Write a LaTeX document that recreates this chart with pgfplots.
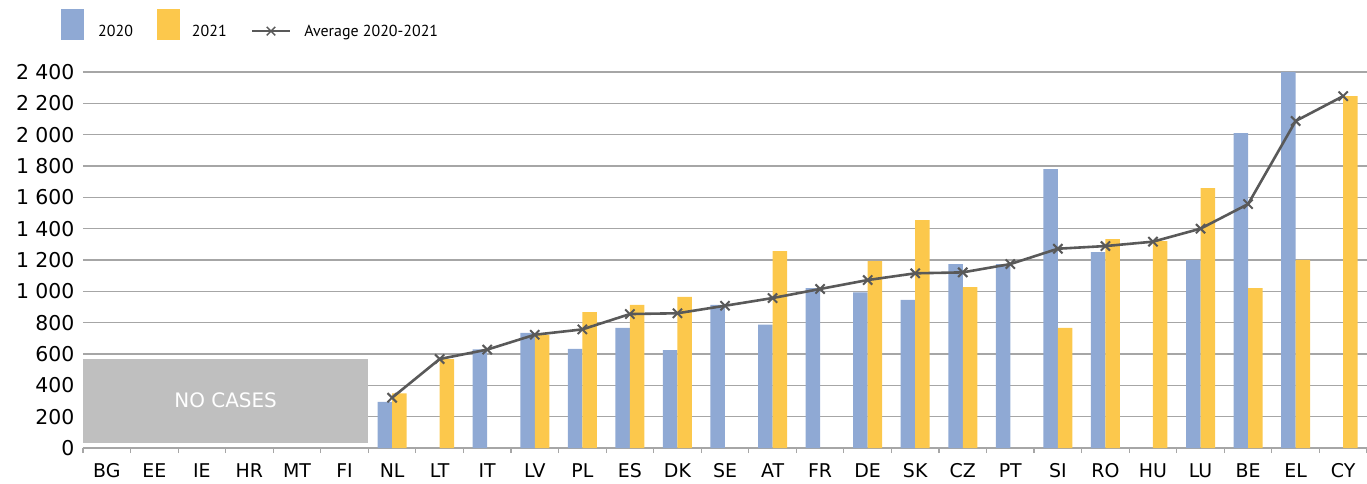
\documentclass[border=0pt]{standalone}
\usepackage{pgfplots}
\pgfplotsset{compat=1.18}
\usetikzlibrary{shapes.misc}
\usepackage{fontspec}
\setmainfont{PT Sans}
\newfontfamily\tickfont{DejaVu Sans}
\definecolor{cblue}{RGB}{143,169,212}
\definecolor{cyellow}{RGB}{252,200,76}
\definecolor{cline}{RGB}{89,89,89}
\definecolor{cgrid}{RGB}{166,166,166}
\definecolor{cbox}{RGB}{191,191,191}
\begin{document}
\begin{tikzpicture}
\begin{axis}[
  at={(0,0)}, anchor=south west,
  scale only axis,
  width=1284bp, height=376bp,
  xmin=-0.5, xmax=26.5,
  ymin=0, ymax=2400,
  xtick={0,...,26},
  xticklabels={BG,EE,IE,HR,MT,FI,NL,LT,IT,LV,PL,ES,DK,SE,AT,FR,DE,SK,CZ,PT,SI,RO,HU,LU,BE,EL,CY},
  minor xtick={-0.5,0.5,...,26.5},
  major tick length=0pt,
  minor tick length=5bp,
  tick align=outside,
  minor tick style={cgrid, line width=1.2bp},
  ytick={0,200,...,2400},
  ymajorgrids,
  grid style={cgrid, line width=1.3bp},
  axis lines*=left,
  x axis line style={cgrid, line width=1.5bp},
  y axis line style={draw=none},
  /pgf/number format/1000 sep={\ },
  /pgf/number format/assume math mode=true,
  yticklabel style={font=\tickfont\fontsize{20.5}{24}\selectfont, xshift=-5bp},
  xticklabel style={font=\tickfont\fontsize{19}{23}\selectfont, yshift=-12bp},
  legend columns=3,
  legend style={at={(-0.0171,1.1676)}, anchor=north west, draw=none, fill=none,
    inner sep=0pt, font=\fontsize{16}{19}\selectfont,
    /tikz/every even column/.append style={column sep=22bp}},
  clip=false,
]
\fill[cbox] (axis cs:-0.5,30) rectangle (axis cs:5.49,570);
\node[white, font=\tickfont\fontsize{20}{24}\selectfont] at (axis cs:2.5,305) {NO CASES};
\addplot[ybar, bar width=14.5bp, bar shift=-7.25bp, fill=cblue, draw=none,
  area legend, legend image code/.code={\fill[cblue] (0bp,-9bp) rectangle (23bp,22bp); \path (35bp,0bp);}]
  coordinates {(6,294) (8,630) (9,735) (10,632) (11,766) (12,625) (13,913) (14,787) (15,1021) (16,993) (17,945) (18,1174) (19,1174) (20,1780) (21,1251) (23,1200) (24,2010) (25,2400)};
\addlegendentry{2020}
\addplot[ybar, bar width=14.5bp, bar shift=7.25bp, fill=cyellow, draw=none,
  area legend, legend image code/.code={\fill[cyellow] (0bp,-9bp) rectangle (23bp,22bp); \path (33bp,0bp);}]
  coordinates {(6,349) (7,568) (9,722) (10,868) (11,913) (12,964) (14,1257) (16,1193) (17,1455) (18,1027) (20,766) (21,1334) (22,1321) (23,1659) (24,1021) (25,1200) (26,2246)};
\addlegendentry{2021}
\addplot[sharp plot, cline, line width=2.6bp, mark=x, mark size=6.5bp,
  mark options={line width=2bp},
  legend image code/.code={\draw[cline, line width=2.6bp] (0bp,0bp) -- (38bp,0bp); \node[cross out, draw=cline, minimum size=7bp, inner sep=0pt, line width=1.5bp] at (19bp,0bp) {}; \path (49bp,0bp);}]
  coordinates {(6,321) (7,568) (8,628) (9,723) (10,757) (11,855) (12,860) (13,908) (14,957) (15,1015) (16,1072) (17,1115) (18,1121) (19,1174) (20,1272) (21,1289) (22,1317) (23,1400) (24,1557) (25,2087) (26,2246)};
\addlegendentry{Average 2020-2021}
\end{axis}
\pgfresetboundingbox
\path (-83bp,-36bp) rectangle (1284bp,448bp);
\end{tikzpicture}
\end{document}
